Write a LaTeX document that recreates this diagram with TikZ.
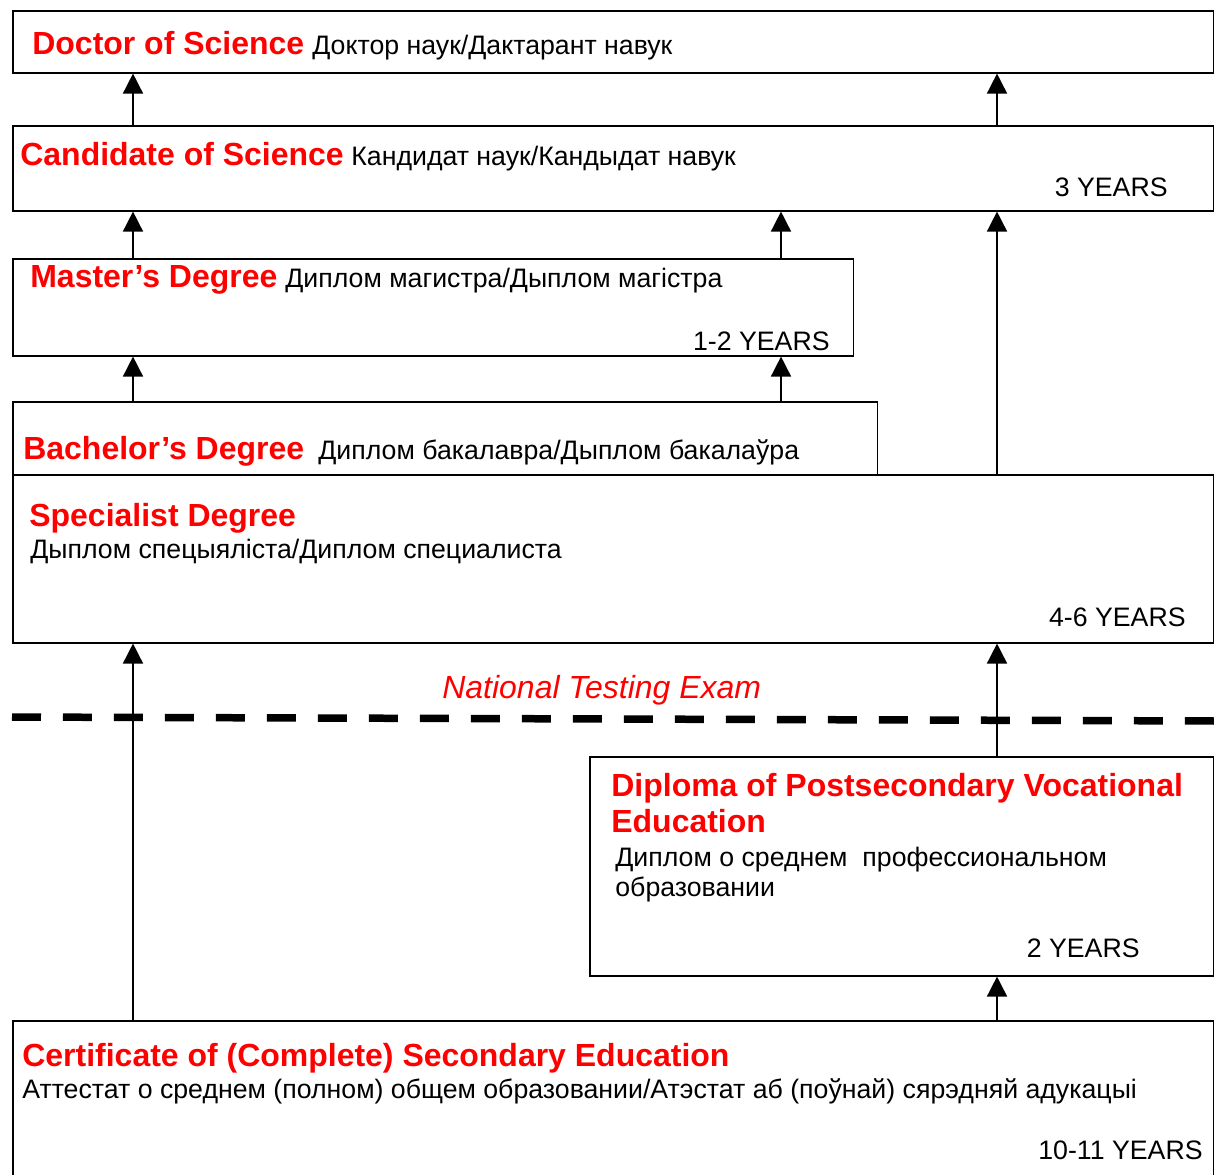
\documentclass[tikz,border=0pt]{standalone}
\usepackage{fontspec}
\setmainfont{Liberation Sans}
\usetikzlibrary{arrows.meta}

\begin{document}
\begin{tikzpicture}[x=0.02cm, y=-0.02cm]
        % Define colors and styles
        \definecolor{titlered}{RGB}{255,0,0}
        \tikzset{
            box/.style={draw, line width=0.9pt, anchor=north west, inner sep=0pt},
            title/.style={anchor=base west, inner sep=0pt, text=titlered, font=\bfseries\fontsize{18.2}{21}\selectfont},
            rus/.style={anchor=base west, inner sep=0pt, font=\fontsize{15.2}{17}\selectfont},
            years/.style={anchor=base east, inner sep=0pt, font=\fontsize{15.2}{17}\selectfont},
            arr/.style={-{Triangle[length=0.4cm, width=0.4cm]}, line width=0.9pt}
        }
        
        \useasboundingbox (0,0) rectangle (1219,1174);
        \clip (0,0) rectangle (1219,1174);
        
        % Draw boxes
        \node[box, minimum width=24.02cm, minimum height=1.24cm] (doc) at (12,10) {};
        \node[box, minimum width=24.02cm, minimum height=1.70cm] (cand) at (12,125) {};
        \node[box, minimum width=16.82cm, minimum height=1.94cm] (mast) at (12,258) {};
        \node[box, minimum width=17.30cm, minimum height=1.46cm] (bach) at (12,401) {};
        \node[box, minimum width=24.02cm, minimum height=3.36cm] (spec) at (12,474) {};
        \node[box, minimum width=12.48cm, minimum height=4.38cm] (dipl) at (589,756) {};
        \node[box, minimum width=24.02cm, minimum height=3.80cm] (cert) at (12,1020) {};
        
        % Texts
        \node[title] (docT) at (32,54) {Doctor of Science};
        \node[rus] (docR) at (312,54) {Доктор наук/Дактарант навук};
        
        \node[title] (candT) at (20,165) {Candidate of Science};
        \node[rus] (candR) at (351,165) {Кандидат наук/Кандыдат навук};
        \node[years] (candY) at (1168,196) {3 YEARS};
        
        \node[title] (mastT) at (30,287) {Master’s Degree};
        \node[rus] (mastR) at (285,287) {Диплом магистра/Дыплом магістра};
        \node[years] (mastY) at (830,350) {1-2 YEARS};
        
        \node[title] (bachT) at (23,459) {Bachelor’s Degree};
        \node[rus] (bachR) at (318,459) {Диплом бакалавра/Дыплом бакалаўра};
        
        \node[title] (specT) at (29,526) {Specialist Degree};
        \node[rus] (specR) at (30,558) {Дыплом спецыяліста/Диплом специалиста};
        \node[years] (specY) at (1186,626) {4-6 YEARS};
        
        \node[rus, text=titlered, font=\itshape\fontsize{18.2}{21}\selectfont] (exam) at (442,698) {National Testing Exam};
        
        \node[title] (diplT) at (611,796) {Diploma of Postsecondary Vocational};
        \node[title] (diplTb) at (611,832) {Education};
        \node[rus] (diplR) at (615,866) {Диплом о среднем\ \ профессиональном};
        \node[rus] (diplRb) at (615,896) {образовании};
        \node[years] (diplY) at (1140,957) {2 YEARS};
        
        \node[title] (certT) at (22,1066) {Certificate of (Complete) Secondary Education};
        \node[rus] (certR) at (22,1098) {Аттестат о среднем (полном) общем образовании/Атэстат аб (поўнай) сярэдняй адукацыі};
        \node[years] (certY) at (1203,1159) {10-11 YEARS};
        
        % Exam line
        \draw[line width=0.15cm, dash pattern=on 0.58cm off 0.44cm] (12,717) -- (1219,721);
        
        % Arrow columns
        \coordinate (colA) at (133,0);
        \coordinate (colB) at (781,0);
        \coordinate (colC) at (997,0);
        
        % Arrows
        \draw[arr] (cand.north -| colA) -- (doc.south -| colA);
        \draw[arr] (cand.north -| colC) -- (doc.south -| colC);
        \draw[arr] (mast.north -| colA) -- (cand.south -| colA);
        \draw[arr] (mast.north -| colB) -- (cand.south -| colB);
        \draw[arr] (spec.north -| colC) -- (cand.south -| colC);
        \draw[arr] (bach.north -| colA) -- (mast.south -| colA);
        \draw[arr] (bach.north -| colB) -- (mast.south -| colB);
        \draw[arr] (cert.north -| colA) -- (spec.south -| colA);
        \draw[arr] (dipl.north -| colC) -- (spec.south -| colC);
        \draw[arr] (cert.north -| colC) -- (dipl.south -| colC);
        
    \end{tikzpicture}
\end{document}
